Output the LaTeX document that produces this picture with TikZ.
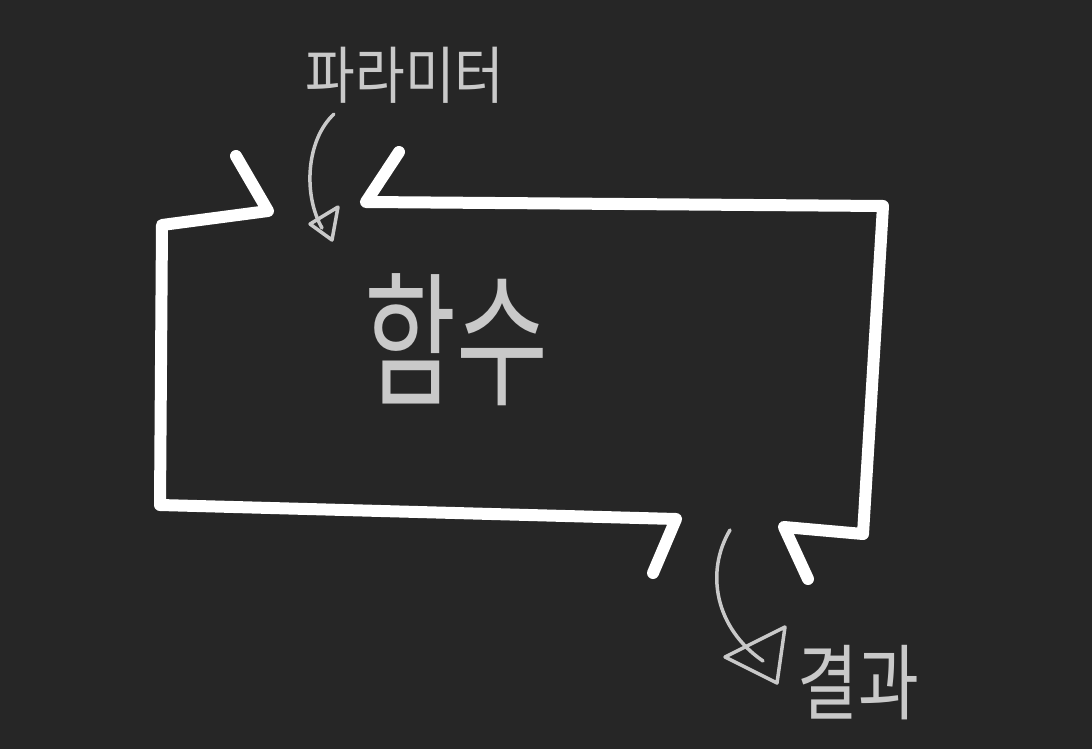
\documentclass[tikz,border=0pt]{standalone}
\usepackage{fontspec}
\usepackage{graphicx}
\newfontfamily\kr{Noto Sans CJK KR}
\definecolor{bg}{HTML}{262626}
\definecolor{chalk}{HTML}{C9C9C9}
\tikzset{
  boxline/.style={draw=white, line width=12pt, line cap=round, line join=round},
  chalkline/.style={draw=chalk, line width=3.5pt, line cap=round, line join=round},
  label/.style={text=chalk, inner sep=0pt, font=\kr}
}
\begin{document}
\begin{tikzpicture}[x=1pt,y=-1pt]
\fill[bg] (0,0) rectangle (1092,749);
\useasboundingbox (0,0) rectangle (1092,749);
% box with input and output openings
\draw[boxline] (236,156) -- (268,211) -- (162,225) -- (160,505) -- (676,519) -- (653,573);
\draw[boxline] (399,152) -- (366,202) -- (883,206) -- (863,534) -- (784,527) -- (808,579);
% labels
\node[label] (param) at (405,75) {\scalebox{1}[1.15]{\fontsize{54}{60}\selectfont 파라미터}};
\node[label] (func) at (456,340) {\scalebox{1}[1.45]{\fontsize{100}{110}\selectfont 함수}};
\node[label] (result) at (858,683) {\scalebox{1}[1.25]{\fontsize{66}{72}\selectfont 결과}};
% input arrow
\coordinate (inS) at (334,114);
\coordinate (inE) at (322,228);
\draw[chalkline] (inS) .. controls (306,140) and (303,195) .. (inE);
\draw[chalkline] (338,207) -- (310,224) -- (332,240) -- cycle;
% output arrow
\coordinate (outS) at (730,530);
\coordinate (outE) at (763,661);
\draw[chalkline] (outS) .. controls (705,572) and (715,628) .. (outE);
\draw[chalkline] (785,627) -- (725,657) -- (777,683) -- cycle;
\end{tikzpicture}
\end{document}
